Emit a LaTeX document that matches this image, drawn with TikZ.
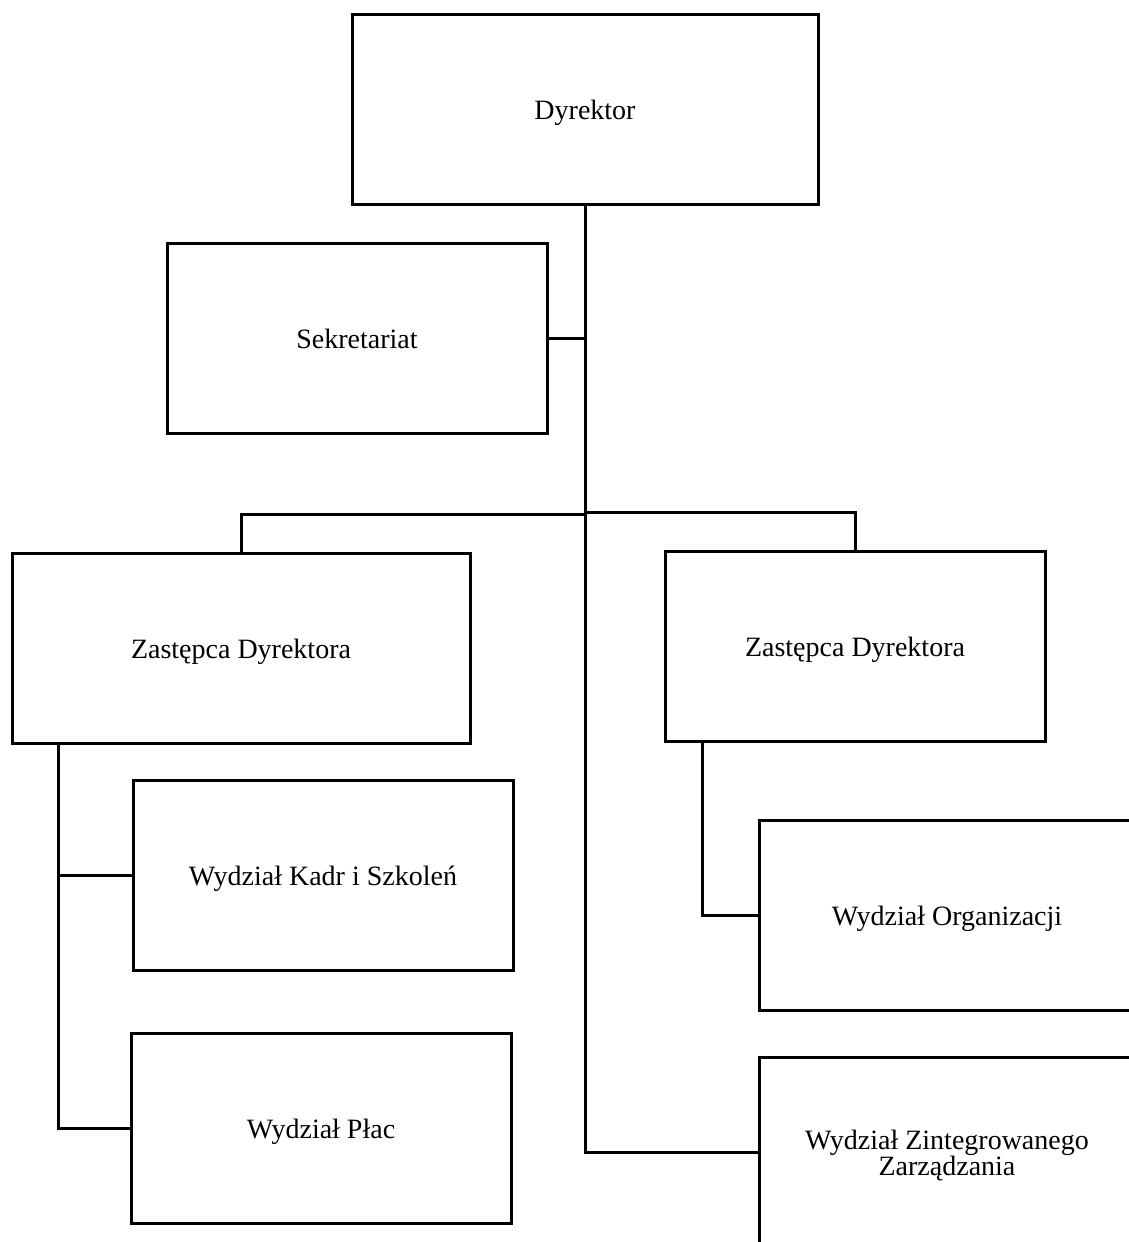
\documentclass[tikz,border=0pt]{standalone}
\usepackage{fontspec}
\setmainfont{Liberation Serif}
\begin{document}
\begin{tikzpicture}[x=1pt,y=-1pt,
  box/.style={draw=black, line width=3pt, fill=white, align=center, inner sep=0pt,
    font=\fontsize{28}{30}\selectfont, text height=26.6pt, text depth=6.2pt},
  conn/.style={draw=black, line width=3pt}]
\useasboundingbox (0,0) rectangle (1129,1242);
\fill[white] (0,0) rectangle (1129,1242);
% boxes
\node[box, minimum width=466pt, minimum height=190pt] (dyr) at (585,109) {Dyrektor};
\node[box, minimum width=380pt, minimum height=190pt] (sek) at (357,338) {Sekretariat};
\node[box, minimum width=458pt, minimum height=190pt] (zl) at (241,648) {Zastępca Dyrektora};
\node[box, minimum width=380pt, minimum height=190pt] (zr) at (855,646) {Zastępca Dyrektora};
\node[box, minimum width=380pt, minimum height=190pt] (kadr) at (323,875) {Wydział Kadr i Szkoleń};
\node[box, minimum width=380pt, minimum height=190pt] (plac) at (321,1128) {Wydział Płac};
\node[box, minimum width=376pt, minimum height=190pt] (org) at (947,915) {Wydział Organizacji};
\node[box, minimum width=376pt, minimum height=190pt, text height=52.6pt] (zint) at (947,1152) {Wydział Zintegrowanego\\[-4pt]Zarządzania};
% junction points
\coordinate (jl) at (585,514);
\coordinate (jr) at (585,512);
\coordinate (zlb) at ([xshift=48pt]zl.south west);
\coordinate (zrb) at ([xshift=39pt]zr.south west);
% connectors
\draw[conn] (dyr.south) |- (zint.west);
\draw[conn] (sek.east) -- (sek.east -| dyr.south);
\draw[conn] (zl.north) |- (jl);
\draw[conn] (zr.north) |- (jr);
\draw[conn] (zlb) |- (kadr.west);
\draw[conn] (zlb) |- (plac.west);
\draw[conn] (zrb) |- (org.west);
\end{tikzpicture}
\end{document}
